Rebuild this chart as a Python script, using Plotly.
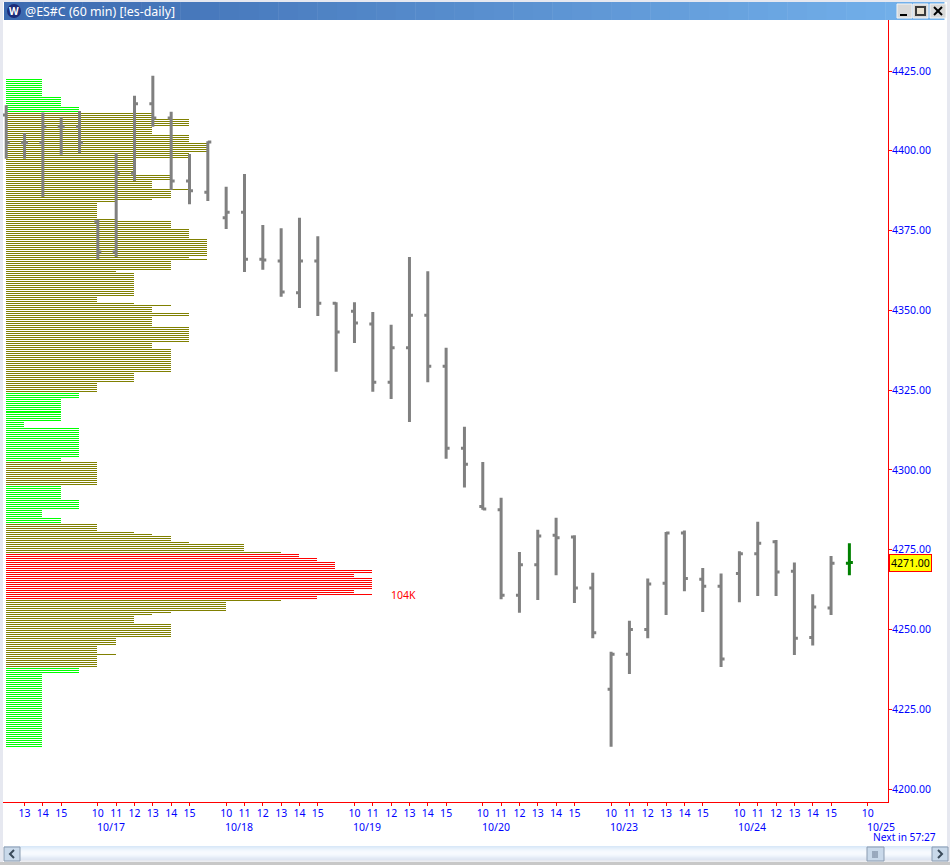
import plotly.graph_objects as go

# ---------- OHLC data (one hourly bar per slot) ----------
bar_open = [4411.25,4402.5,4402.5,4407.5,4407.5,4377.75,4368.25,4393,4414.75,4410.25,4390.5,4387,
            4379,4380.75,4366,4365.5,4355.5,4365.5,4352.25,4349.75,4345.75,4327.5,4338.25,4348.5,
            4332.5,4306.75,4288.5,4287.5,4260.75,4270.25,4279.5,4279,4263,4231.25,4242.25,4250,
            4264.5,4280.25,4265.75,4263.5,4267.5,4273.75,4277.5,4268.25,4247.5,4256.75,4270.75]
bar_high = [4414.25,4405.5,4412,4410.5,4412.5,4378.5,4399.25,4417.25,4423.5,4412.25,4399,4403,
            4388.75,4392.75,4376.75,4375.75,4379,4373.25,4352.5,4352.5,4349.5,4345.5,4366.75,4362.25,
            4338.25,4313.5,4302.5,4291.25,4274.25,4281.25,4285,4279.5,4267.75,4243,4252.75,4266,
            4280.5,4281,4269.25,4267.5,4274.5,4283.75,4278,4271,4261,4273,4277]
bar_low = [4397.5,4397.5,4385.5,4398.75,4399.25,4366,4366.75,4390.5,4407.5,4387.75,4383.25,4384.25,
           4375.5,4362,4362.75,4354.25,4350.75,4348.25,4330.75,4339.75,4324.5,4322.25,4315,4327.5,
           4303.5,4294.5,4287.5,4259.5,4255.25,4259.25,4267,4258.25,4247.25,4213.25,4236,4247.25,
           4254.5,4262,4255.5,4238.25,4258.5,4260.5,4260.5,4242,4245,4254.5,4267]
bar_close = [4402.5,4402.5,4407.5,4407.5,4402.5,4368.25,4393,4414.75,4410.25,4390.5,4387.5,4402.75,
             4380.75,4366,4365.75,4355.75,4365.5,4352.25,4343.25,4346,4327.5,4338.25,4348.5,4332.5,
             4306.75,4301.75,4287.75,4260.75,4270.25,4279.25,4278.75,4263,4249,4242.25,4250,4264.25,
             4280.25,4266,4263.5,4240.75,4273.75,4277,4268,4247.25,4257,4270.75,4271]

# ---------- Axis labels ----------
tick_slots = [1,2,3, 5,6,7,8,9,10, 12,13,14,15,16,17, 19,20,21,22,23,24, 26,27,28,29,30,31,
              33,34,35,36,37,38, 40,41,42,43,44,45, 47]
tick_hours = ["13","14","15"] + ["10","11","12","13","14","15"] * 6 + ["10"]
date_slots = [5, 12, 19, 26, 33, 40, 47]
date_labels = ["10/17","10/18","10/19","10/20","10/23","10/24","10/25"]
price_ticks = [4200,4225,4250,4275,4300,4325,4350,4375,4400,4425]

# ---------- Volume profile, top to bottom: volume (K) of each run and its length in rows ----------
upper_top_price = 4422.344
lower_top_price = 4317.988
upper_row_total = 167
profile_row_step = 0.62676
profile_volume_k = [10.4,15.6,20.8,41.6,52,41.6,52,57.2,52,36.4,46.8,41.6,52,46.8,41.6,31.2,26,31.2,
                    46.8,52,57.2,52,57.2,46.8,31.2,36.4,26,36.4,46.8,41.6,52,41.6,52,41.6,46.8,36.4,
                    26,20.8,15.6,5.2,20.8,15.6,26,15.6,20.8,10.4,15.6,26,36.4,41.6,46.8,52,67.6,78,
                    83.2,88.4,93.6,104,98.8,104,98.8,104,88.4,78,62.4,46.8,41.6,36.4,46.8,31.2,26,31.2,
                    26,20.8,10.4]
profile_row_count = [9,5,3,3,4,4,4,5,3,8,3,4,1,4,1,1,8,1,
                     4,5,9,1,1,5,1,12,3,1,1,3,2,5,8,3,12,5,
                     5,3,12,3,15,2,12,7,5,4,3,4,1,1,3,1,4,1,
                     2,2,4,2,2,6,2,1,2,1,5,1,1,4,7,4,4,1,
                     6,3,37]
profile_zone = ["low"]*3 + ["mid"]*34 + ["low"]*5 + ["mid"] + ["low"]*4 + ["mid"]*7 + \
               ["high"]*9 + ["mid"]*10 + ["low"]*2
zone_colors = {"low": "rgba(0,255,0,0.996)", "mid": "rgba(128,128,0,0.996)", "high": "rgba(255,0,0,0.996)"}

W, H = 950, 865
PLOT_L, PLOT_R, PLOT_T, PLOT_B = 3, 888, 20, 802
BLUE = "#0000ff"
FONT = "Noto Sans"
FS = 10.5

def px(x): return x / W
def py(y): return 1 - y / H

# expand the run-length profile into rows
rows = {"low": ([], []), "mid": ([], []), "high": ([], [])}
row_index = 0
for vol, cnt, zone in zip(profile_volume_k, profile_row_count, profile_zone):
    for _ in range(cnt):
        if row_index < upper_row_total:
            price = upper_top_price - row_index * profile_row_step
        else:
            price = lower_top_price - (row_index - upper_row_total) * profile_row_step
        rows[zone][0].append(vol)
        rows[zone][1].append(price)
        row_index += 1

fig = go.Figure()
for zone, (vols, prices) in rows.items():
    fig.add_trace(go.Bar(x=vols, y=prices, orientation="h", width=0.3134, base=0,
                         marker=dict(color=zone_colors[zone], line_width=0),
                         xaxis="x", yaxis="y", showlegend=False))

slots = list(range(len(bar_open)))
GRAY = "#808080"
fig.add_trace(go.Ohlc(x=slots[:-1], open=bar_open[:-1], high=bar_high[:-1], low=bar_low[:-1],
                      close=bar_close[:-1], tickwidth=0.19, xaxis="x2", yaxis="y", showlegend=False,
                      increasing=dict(line=dict(color=GRAY, width=3)),
                      decreasing=dict(line=dict(color=GRAY, width=3))))
fig.add_trace(go.Ohlc(x=slots[-1:], open=bar_open[-1:], high=bar_high[-1:], low=bar_low[-1:],
                      close=bar_close[-1:], tickwidth=0.19, xaxis="x2", yaxis="y", showlegend=False,
                      increasing=dict(line=dict(color="#008000", width=3)),
                      decreasing=dict(line=dict(color="#008000", width=3))))

shapes = []
def rect(x0, y0, x1, y1, fill, line=None, lw=0):
    shapes.append(dict(type="rect", xref="paper", yref="paper", x0=px(x0), x1=px(x1), y0=py(y0), y1=py(y1),
                       fillcolor=fill, line=dict(color=line or fill, width=lw)))
def path(points, color, width=2):
    d = "M" + " L".join(f"{px(a):.5f},{py(b):.5f}" for a, b in points)
    shapes.append(dict(type="path", xref="paper", yref="paper", path=d, line=dict(color=color, width=width)))

# window frame
rect(0, 0, 3, H, "#e6e8f0")
rect(947, 0, W, H, "#e6e8f0")
rect(0, 0, W, 2, "#e6e8f0")
rect(0, 862, W, H, "#c8c8c8")

# title bar gradient
steps = 48
c0, c1 = (0x3c, 0x6a, 0xb0), (0x74, 0xb2, 0xec)
for i in range(steps):
    t = i / (steps - 1)
    col = "#%02x%02x%02x" % tuple(round(a + (b - a) * t) for a, b in zip(c0, c1))
    xa = 4 + (944 - 4) * i / steps
    xb = 4 + (944 - 4) * (i + 1) / steps + 0.5
    rect(xa, 2, xb, 20, col)

# icon
shapes.append(dict(type="circle", xref="paper", yref="paper", x0=px(7), x1=px(21), y0=py(4), y1=py(18),
                   fillcolor="#1c2c78", line=dict(color="#1c2c78", width=0)))

# window buttons
for xa, xb in [(897, 912), (913, 928), (930, 946)]:
    rect(xa, 4, xb, 18, "#d8d8d8", "#f4f4f4", 1)
path([(900, 15), (907, 15)], "#000000", 2)
rect(916, 7, 925, 15, "#e8e0d0", "#3a3a3a", 2)
path([(934, 7), (942, 15)], "#000000", 2)
path([(942, 7), (934, 15)], "#000000", 2)

# scrollbar
sb = ["#d9e8f8","#dfecf9","#e6f0fb","#ecf4fc","#f1f7fd","#f5f9fe","#f7fafe","#f7fafe",
      "#f5f9fe","#f1f6fc","#ecf2fa","#e6edf7","#e2e9f4","#dfe6f2","#e6e9f0","#eceef2"]
for i, c in enumerate(sb):
    rect(4, 846 + i, 947, 847 + i, c)
for xa, xb in [(4, 20), (932, 948), (867, 884)]:
    rect(xa, 847, xb, 861, "#c9d9ea", "#8a9bb0", 1)
path([(14, 850), (10, 854), (14, 858)], "#3a4a5a", 2)
path([(938, 850), (942, 854), (938, 858)], "#3a4a5a", 2)
for xg in (873, 875, 877):
    path([(xg, 851), (xg, 858)], "#6a7a90", 1)

annotations = [
    dict(text="@ES#C (60 min) [!es-daily]", xref="paper", yref="paper", x=px(23), y=py(11.5),
         xanchor="left", yanchor="middle", showarrow=False, font=dict(family=FONT, size=12.4, color="#ffffff")),
    dict(text="<b>W</b>", xref="paper", yref="paper", x=px(14), y=py(11), xanchor="center", yanchor="middle",
         showarrow=False, font=dict(family=FONT, size=10, color="#ffffff")),
    dict(text="104K", xref="paper", yref="paper", x=px(389), y=py(595), xanchor="left", yanchor="middle",
         showarrow=False, font=dict(family=FONT, size=FS, color="#ff0000")),
    dict(text="4271.00", xref="paper", yref="paper", x=px(889), y=py(563), xanchor="left", yanchor="middle",
         showarrow=False, bgcolor="#ffff00", bordercolor="#ff0000", borderwidth=1, borderpad=1,
         font=dict(family=FONT, size=FS, color="#000000")),
    dict(text="Next in 57:27", xref="paper", yref="paper", x=px(871), y=py(837), xanchor="left", yanchor="middle",
         showarrow=False, font=dict(family=FONT, size=10.2, color=BLUE)),
]
for s, lab in zip(date_slots, date_labels):
    annotations.append(dict(text=lab, xref="x2", yref="paper", x=s, y=py(826.5), xanchor="left", yanchor="middle",
                            xshift=-3, showarrow=False, font=dict(family=FONT, size=FS, color=BLUE)))

VOL_UNIT_PX = 18.32
VOL_ORIGIN_PX = 5.7
K_PER_UNIT = 5.2
SLOT_PX = 18.33
SLOT_ORIGIN_PX = 6.2
fig.update_layout(
    width=W, height=H, autosize=False, margin=dict(l=0, r=0, t=0, b=0),
    paper_bgcolor="#ffffff", plot_bgcolor="#ffffff", showlegend=False, barmode="overlay",
    bargap=0, hovermode=False,
    font=dict(family=FONT, size=FS, color=BLUE),
    xaxis=dict(domain=[px(PLOT_L), px(PLOT_R)], visible=False, showgrid=False, zeroline=False,
               range=[(PLOT_L - VOL_ORIGIN_PX) / VOL_UNIT_PX * K_PER_UNIT,
                      (PLOT_R - VOL_ORIGIN_PX) / VOL_UNIT_PX * K_PER_UNIT]),
    xaxis2=dict(domain=[px(PLOT_L), px(PLOT_R)], overlaying="x", anchor="y", side="bottom",
                range=[(PLOT_L - SLOT_ORIGIN_PX) / SLOT_PX, (PLOT_R - SLOT_ORIGIN_PX) / SLOT_PX],
                rangeslider=dict(visible=False),
                tickmode="array", tickvals=tick_slots, ticktext=tick_hours, tickangle=0,
                showgrid=False, zeroline=False, showline=True, linecolor="#ff0000", linewidth=1,
                ticks="outside", ticklen=3, tickwidth=1, tickcolor="#ff0000", ticklabelstandoff=-2,
                tickfont=dict(family=FONT, size=FS, color=BLUE)),
    yaxis=dict(domain=[py(PLOT_B), py(PLOT_T)], anchor="x", side="right",
               range=[4200 - (PLOT_B - 789) / 3.191, 4200 + (789 - PLOT_T) / 3.191],
               tickmode="array", tickvals=price_ticks, tickformat=".2f",
               showgrid=False, zeroline=False, showline=True, linecolor="#ff0000", linewidth=1,
               ticks="outside", ticklen=3, tickwidth=1, tickcolor="#ff0000", ticklabelstandoff=-2,
               tickfont=dict(family=FONT, size=FS, color=BLUE)),
    shapes=shapes, annotations=annotations,
)

fig.write_html("out.html", include_plotlyjs=True, config={"displayModeBar": False},
               post_script="document.body.style.margin='0';document.body.style.overflow='hidden';")
